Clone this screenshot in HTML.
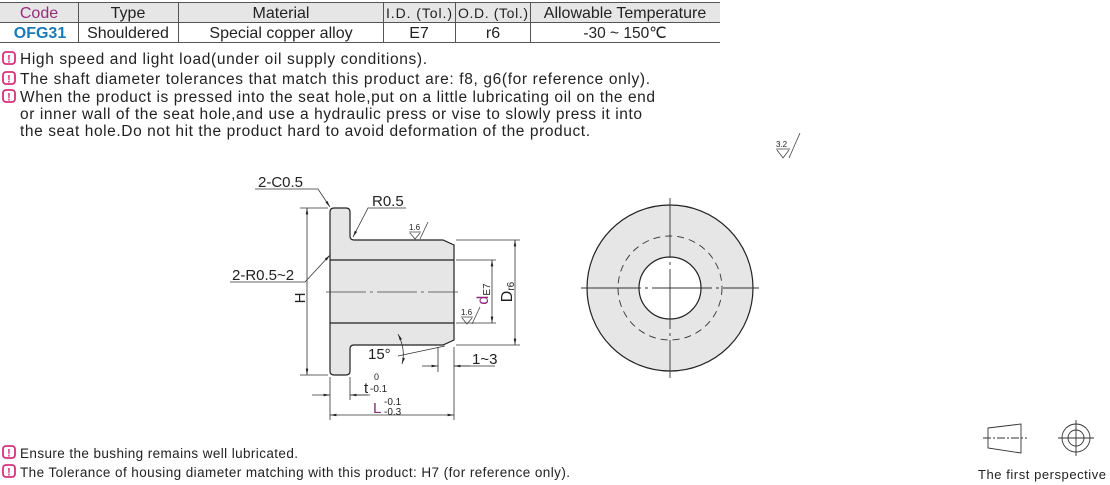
<!DOCTYPE html>
<html><head><meta charset="utf-8"><style>
html,body{margin:0;padding:0;background:#fff;}
svg{display:block;}
text{font-family:"Liberation Sans Narrow","Liberation Sans",sans-serif;fill:#222;}
</style></head><body>
<svg width="1110" height="485" viewBox="0 0 1110 485" xmlns="http://www.w3.org/2000/svg">
<defs>
<marker id="a" viewBox="0 0 10 10" refX="10" refY="5" markerWidth="8" markerHeight="8" orient="auto-start-reverse"><path d="M0,3 L10,5 L0,7 z" fill="#222"/></marker>
<g id="ic"><rect x="0" y="0" width="12" height="12" rx="3" fill="#fff" stroke="#d4327a" stroke-width="1.8"/><text x="6" y="10.5" font-size="11" font-weight="bold" text-anchor="middle" style="fill:#d4327a">!</text></g>
</defs>
<!-- table -->
<rect x="0" y="2" width="720" height="20" fill="#e6e6e6"/>
<g stroke="#555" stroke-width="1" fill="none">
<line x1="0" y1="2.5" x2="720" y2="2.5"/><line x1="0" y1="22.5" x2="720" y2="22.5"/><line x1="0" y1="42.5" x2="720" y2="42.5"/>
<line x1="78.5" y1="2" x2="78.5" y2="42"/><line x1="178.5" y1="2" x2="178.5" y2="42"/><line x1="383.5" y1="2" x2="383.5" y2="42"/><line x1="455.5" y1="2" x2="455.5" y2="42"/><line x1="530.5" y1="2" x2="530.5" y2="42"/>
</g>
<g font-size="16" text-anchor="middle">
<text x="39" y="18" style="fill:#9a2a7a">Code</text><text x="128" y="18">Type</text><text x="281" y="18">Material</text>
<text x="419" y="18" font-size="14" textLength="66">I.D. (Tol.)</text><text x="493" y="18" font-size="14" textLength="70">O.D. (Tol.)</text><text x="625" y="18">Allowable Temperature</text>
<text x="40" y="38" font-weight="bold" style="fill:#1a7ab8">OFG31</text><text x="128" y="38">Shouldered</text><text x="281" y="38">Special copper alloy</text>
<text x="419" y="38">E7</text><text x="493" y="38">r6</text><text x="625" y="38" font-size="15.5">-30 ~ 150℃</text>
</g>
<!-- notes -->
<use href="#ic" x="3" y="52"/><use href="#ic" x="3" y="72"/><use href="#ic" x="3" y="90"/>
<g font-size="15.5">
<text x="20" y="64" textLength="407">High speed and light load(under oil supply conditions).</text>
<text x="20" y="84" textLength="630">The shaft diameter tolerances that match this product are: f8, g6(for reference only).</text>
<text x="20" y="102" textLength="635">When the product is pressed into the seat hole,put on a little lubricating oil on the end</text>
<text x="20" y="119" textLength="622">or inner wall of the seat hole,and use a hydraulic press or vise to slowly press it into</text>
<text x="20" y="136" textLength="570">the seat hole.Do not hit the product hard to avoid deformation of the product.</text>
</g>
<use href="#ic" x="3" y="446"/><use href="#ic" x="3" y="465"/>
<g font-size="13.5">
<text x="20" y="458" textLength="278">Ensure the bushing remains well lubricated.</text>
<text x="20" y="477" textLength="550">The Tolerance of housing diameter matching with this product:  H7 (for reference only).</text>
</g>
<!-- roughness 3.2 -->
<text x="776" y="147" font-size="8">3.2</text>
<path d="M776,149 H790 M777,150 L783,158 L789,150 M789,158 L800,133" stroke="#444" fill="none" stroke-width="0.8"/>
<!-- side view -->
<path d="M334,208 H346 Q350,208 350,212 V236 Q350,240 354,240 H443 L454,245 V340 L443,345 H354 Q350,345 350,349 V371 Q350,375 346,375 H334 Q330,375 330,371 V212 Q330,208 334,208 Z" fill="#e6e6e6" stroke="#222" stroke-width="1.2"/>
<path d="M330,260 H454 M330,323 H454" stroke="#222" stroke-width="1.2" fill="none"/>
<path d="M326,292 H458" stroke="#444" stroke-width="0.8" stroke-dasharray="40,4,3,4"/>
<g stroke="#333" stroke-width="0.8" fill="none">
<path d="M300,208 H328 M300,375 H328"/>
<line x1="307" y1="208" x2="307" y2="375" marker-start="url(#a)" marker-end="url(#a)"/>
<path d="M456,240 H520 M456,345 H520"/>
<line x1="515" y1="240" x2="515" y2="345" marker-start="url(#a)" marker-end="url(#a)"/>
<path d="M456,260 H496 M456,323 H496"/>
<line x1="492" y1="260" x2="492" y2="323" marker-start="url(#a)" marker-end="url(#a)"/>
<path d="M330,377 V420 M350,377 V400 M454,347 V420 M438,347 V372"/>
<line x1="330" y1="415" x2="454" y2="415" marker-start="url(#a)" marker-end="url(#a)"/>
<line x1="312" y1="395" x2="330" y2="395" marker-end="url(#a)"/>
<line x1="368" y1="395" x2="350" y2="395" marker-end="url(#a)"/>
<line x1="350" y1="395" x2="370" y2="395"/>
<line x1="422" y1="366" x2="438" y2="366" marker-end="url(#a)"/>
<line x1="470" y1="366" x2="454" y2="366" marker-end="url(#a)"/>
<line x1="454" y1="366" x2="495" y2="366"/>
<path d="M255,189 H318 L330,207" marker-end="url(#a)"/>
<path d="M406,208 H368 L353,237" marker-end="url(#a)"/>
<path d="M230,282 H305 L330,255" marker-end="url(#a)"/>
<path d="M398,356 L445,346"/>
<path d="M398,334 Q406,350 402,364" marker-start="url(#a)" marker-end="url(#a)"/>
</g>
<text x="409" y="230" font-size="8">1.6</text>
<path d="M409,232 H421 M410,233 L415,239 L420,233 M420,239 L428,222" stroke="#444" fill="none" stroke-width="0.8"/>
<text x="461" y="315" font-size="8">1.6</text>
<path d="M461,317 H473 M462,318 L467,324 L472,318 M472,324 L480,307" stroke="#444" fill="none" stroke-width="0.8"/>
<g font-size="15">
<text x="258" y="187">2-C0.5</text>
<text x="372" y="206">R0.5</text>
<text x="232" y="280">2-R0.5~2</text>
<text x="368" y="359">15°</text>
<text x="472" y="364">1~3</text>
<text x="305" y="298" transform="rotate(-90 305 298)" text-anchor="middle">H</text>
<text x="512" y="292" transform="rotate(-90 512 292)" text-anchor="middle" font-size="16">D<tspan font-size="10" dy="2">r6</tspan></text>
<text x="488" y="294" transform="rotate(-90 488 294)" text-anchor="middle" font-size="16" style="fill:#8a2a7a">d<tspan font-size="10" dy="2" style="fill:#222">E7</tspan></text>
<text x="364" y="393">t</text>
<text x="374" y="380" font-size="9">0</text>
<text x="370" y="392" font-size="10">-0.1</text>
<text x="373" y="413" style="fill:#8a2a7a">L</text>
<text x="384" y="405" font-size="10">-0.1</text>
<text x="384" y="415" font-size="10">-0.3</text>
</g>
<!-- front view -->
<circle cx="670" cy="288" r="83" fill="#e6e6e6" stroke="#222" stroke-width="1.2"/>
<circle cx="670" cy="288" r="52" fill="none" stroke="#333" stroke-width="0.9" stroke-dasharray="7,5"/>
<circle cx="670" cy="288" r="31" fill="#fff" stroke="#222" stroke-width="1.2"/>
<path d="M581,288 H759 M670,198 V378" stroke="#333" stroke-width="0.9" stroke-dasharray="60,4,3,4"/>
<!-- first perspective -->
<g stroke="#333" stroke-width="0.9" fill="none">
<path d="M988,428 L1021,424 V453 L988,448 Z"/>
<path d="M983,438 H1027" stroke-dasharray="8,2,2,2"/>
<circle cx="1076" cy="438" r="14"/><circle cx="1076" cy="438" r="8"/>
<path d="M1058,438 H1094 M1076,420 V456"/>
</g>
<text x="978" y="479" font-size="13" textLength="128" style="font-family:'Liberation Sans',sans-serif">The first perspective</text>
</svg>
</body></html>
